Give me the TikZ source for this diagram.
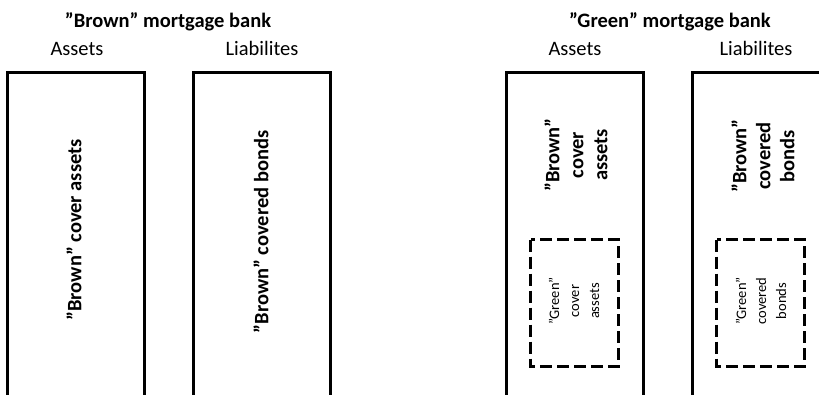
\documentclass[tikz,border=0pt]{standalone}
\usepackage{fontspec}
\setmainfont{Carlito}
\begin{document}
\begin{tikzpicture}[x=1pt,y=-1pt,
  solidbox/.style={line width=3pt},
  dashbox/.style={line width=3pt,dash pattern=on 12pt off 5pt},
  titletext/.style={font=\fontsize{20.5}{25}\selectfont\bfseries,anchor=base},
  headtext/.style={font=\fontsize{20.5}{25}\selectfont,anchor=base},
  bigtext/.style={font=\fontsize{20.5}{24}\selectfont\bfseries,rotate=90,align=center},
  smalltext/.style={font=\fontsize{14.5}{20}\selectfont,rotate=90,align=center}]
\useasboundingbox (0,0) rectangle (819,394);
\clip (0,0) rectangle (819,394);
% titles
\node[titletext] (t1) at (168,27) {”Brown” mortgage bank};
\node[titletext] (t2) at (670,27) {”Green” mortgage bank};
\node[headtext] (a1) at (77,55) {Assets};
\node[headtext] (l1) at (262,55) {Liabilites};
\node[headtext] (a2) at (575,55) {Assets};
\node[headtext] (l2) at (756,55) {Liabilites};
% open-bottom boxes
\draw[solidbox] (7.5,400) -- (7.5,72.5) -- (144.5,72.5) -- (144.5,400);
\draw[solidbox] (193.5,400) -- (193.5,72.5) -- (330.5,72.5) -- (330.5,400);
\draw[solidbox] (506.5,400) -- (506.5,72.5) -- (643.5,72.5) -- (643.5,400);
\draw[solidbox] (692.5,400) -- (692.5,72.5) -- (830,72.5) -- (830,400);
% dashed boxes
\draw[dashbox] (530.5,239.5) rectangle (618.5,366);
\draw[dashbox] (716.5,239.5) rectangle (804.5,366);
% texts
\node[bigtext] (b1) at (74,230) {”Brown” cover assets};
\node[bigtext] (b2) at (261,232) {”Brown” covered bonds};
\node[bigtext] (b3) at (576,155) {”Brown”\\cover\\assets};
\node[bigtext] (b4) at (763,156) {”Brown”\\covered\\bonds};
\node[smalltext] (g1) at (574,301) {”Green”\\cover\\assets};
\node[smalltext] (g2) at (761,301) {”Green”\\covered\\bonds};
\end{tikzpicture}
\end{document}
